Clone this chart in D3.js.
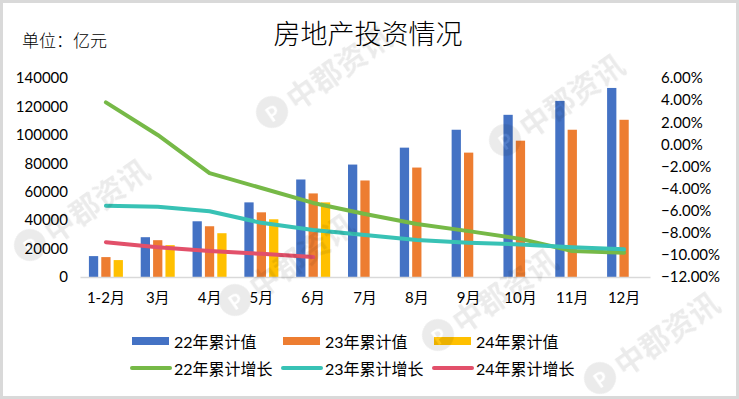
<!DOCTYPE html>
<html>
<head>
<meta charset="utf-8">
<script src="https://cdn.jsdelivr.net/npm/d3@7/dist/d3.min.js"></script>
<style>
  html, body { margin: 0; padding: 0; background: #fff; }
  svg { display: block; }
  text { font-family: Lato, "Noto Sans CJK SC", sans-serif; fill: #000; }
</style>
</head>
<body>
<div id="chart"></div>
<script>
// Kategorien (x-Achse)
const months = ['1-2月', '3月', '4月', '5月', '6月', '7月', '8月', '9月', '10月', '11月', '12月'];

// Balken: kumulierte Werte (亿元)
const value22 = [14700, 28000, 39200, 52500, 68600, 79100, 91000, 103600, 114100, 123900, 133000];
const value23 = [14000, 25900, 35700, 45500, 58800, 67900, 77000, 87500, 95900, 103600, 110600];
const value24 = [11900, 22400, 30800, 40600, 52500];

// Linien: kumuliertes Wachstum (%)
const growth22 = [3.8, 0.85, -2.6, -3.95, -5.3, -6.3, -7.2, -7.85, -8.55, -9.65, -9.8];
const growth23 = [-5.55, -5.65, -6.05, -7.1, -7.75, -8.2, -8.65, -8.9, -9.05, -9.3, -9.5];
const growth24 = [-8.85, -9.3, -9.65, -9.9, -10.2];

// Achsen-Ticks
const leftTicks = [0, 20000, 40000, 60000, 80000, 100000, 120000, 140000];
const rightTicks = [-12, -10, -8, -6, -4, -2, 0, 2, 4, 6];

const barSeries = [
  { key: '22年累计值', values: value22, color: '#4472c4' },
  { key: '23年累计值', values: value23, color: '#ed7d31' },
  { key: '24年累计值', values: value24, color: '#ffc000' },
];
const lineSeries = [
  { key: '22年累计增长', values: growth22, color: '#76b947' },
  { key: '23年累计增长', values: growth23, color: '#38c2b5' },
  { key: '24年累计增长', values: growth24, color: '#e2506a' },
];

const W = 739, H = 399;
const svg = d3.select('#chart').append('svg').attr('width', W).attr('height', H);

// Rahmen
svg.append('rect')
  .attr('x', 1.5).attr('y', 1.5).attr('width', W - 3).attr('height', H - 3)
  .attr('fill', '#fff').attr('stroke', '#d9d9d9').attr('stroke-width', 3);

// Titel + Einheit
svg.append('text')
  .attr('x', 368).attr('y', 33)
  .attr('text-anchor', 'middle').attr('dominant-baseline', 'central')
  .attr('font-size', 27).attr('font-weight', 300)
  .text('房地产投资情况');
svg.append('text')
  .attr('x', 22).attr('y', 40)
  .attr('dominant-baseline', 'central')
  .attr('font-size', 17).attr('font-weight', 300)
  .text('单位：亿元');

// Skalen
const x = d3.scaleBand().domain(months).range([80, 650]).padding(0);
const xInner = d3.scaleBand().domain(barSeries.map(d => d.key)).range([0, 34]).paddingInner(0.25).paddingOuter(0);
const yL = d3.scaleLinear().domain([0, 140000]).range([277, 78]);
const yR = d3.scaleLinear().domain([-12, 6]).range([277, 78]);

// Balken
const gBars = svg.append('g').attr('class', 'bars');
barSeries.forEach(s => {
  gBars.append('g')
    .selectAll('rect')
    .data(s.values)
    .join('rect')
    .attr('x', (d, i) => x(months[i]) + x.bandwidth() / 2 - 17 + xInner(s.key))
    .attr('width', xInner.bandwidth())
    .attr('y', d => yL(d))
    .attr('height', d => yL(0) - yL(d))
    .attr('fill', s.color);
});

// x-Achse (nur Linie + Labels)
const xAxis = svg.append('g')
  .attr('transform', `translate(0, ${yL(0)})`)
  .call(d3.axisBottom(x).tickSize(0).tickPadding(15));
xAxis.select('.domain').attr('stroke', '#d9d9d9').attr('stroke-width', 1.5);
xAxis.selectAll('.tick text').attr('font-size', 15).attr('fill', '#000')
  .attr('font-family', 'Lato, "Noto Sans CJK SC", sans-serif');

// linke Achse
const yAxisL = svg.append('g')
  .attr('transform', 'translate(70, 0)')
  .call(d3.axisLeft(yL).tickValues(leftTicks).tickSize(0).tickPadding(2).tickFormat(d3.format('d')));
yAxisL.select('.domain').remove();
yAxisL.selectAll('.tick text').attr('font-size', 15).attr('fill', '#000')
  .attr('font-family', 'Lato, sans-serif');

// rechte Achse
const yAxisR = svg.append('g')
  .attr('transform', 'translate(659, 0)')
  .call(d3.axisRight(yR).tickValues(rightTicks).tickSize(0).tickPadding(2).tickFormat(d => d3.format('.2f')(d) + '%'));
yAxisR.select('.domain').remove();
yAxisR.selectAll('.tick text').attr('font-size', 15).attr('fill', '#000')
  .attr('font-family', 'Lato, sans-serif');

// Linien
const line = d3.line()
  .x((d, i) => x(months[i]) + x.bandwidth() / 2)
  .y(d => yR(d));
svg.append('g').attr('class', 'lines')
  .selectAll('path')
  .data(lineSeries)
  .join('path')
  .attr('d', d => line(d.values))
  .attr('fill', 'none')
  .attr('stroke', d => d.color)
  .attr('stroke-width', 4)
  .attr('stroke-linejoin', 'round')
  .attr('stroke-linecap', 'round');

// Legende
const legX = [132, 283, 434];
const gLeg = svg.append('g').attr('class', 'legend');
barSeries.forEach((s, i) => {
  gLeg.append('rect')
    .attr('x', legX[i]).attr('y', 337).attr('width', 37).attr('height', 8)
    .attr('fill', s.color);
  gLeg.append('text')
    .attr('x', legX[i] + 42).attr('y', 341)
    .attr('dominant-baseline', 'central').attr('font-size', 16)
    .text(s.key);
});
lineSeries.forEach((s, i) => {
  gLeg.append('line')
    .attr('x1', legX[i]).attr('x2', legX[i] + 38)
    .attr('y1', 368).attr('y2', 368)
    .attr('stroke', s.color).attr('stroke-width', 4).attr('stroke-linecap', 'round');
  gLeg.append('text')
    .attr('x', legX[i] + 42).attr('y', 368)
    .attr('dominant-baseline', 'central').attr('font-size', 16)
    .text(s.key);
});

// Wasserzeichen (dezent, vollständig im Bild)
const marks = [[272, 112], [505, 140], [30, 245], [235, 300], [438, 335], [600, 378]];
const gWm = svg.append('g').attr('pointer-events', 'none').attr('opacity', 0.08);
marks.forEach(([mx, my]) => {
  const g = gWm.append('g').attr('transform', `translate(${mx},${my}) rotate(-35)`);
  g.append('circle').attr('r', 16).attr('fill', '#000');
  g.append('text').attr('x', 0).attr('y', 1)
    .attr('text-anchor', 'middle').attr('dominant-baseline', 'central')
    .attr('font-size', 20).attr('font-weight', 700).style('fill', '#fff')
    .text('P');
  g.append('text').attr('x', 20).attr('y', 1)
    .attr('dominant-baseline', 'central')
    .attr('font-size', 30).attr('font-weight', 700)
    .attr('font-family', '"Noto Sans CJK SC", sans-serif')
    .text('中郡资讯');
});
</script>
</body>
</html>
